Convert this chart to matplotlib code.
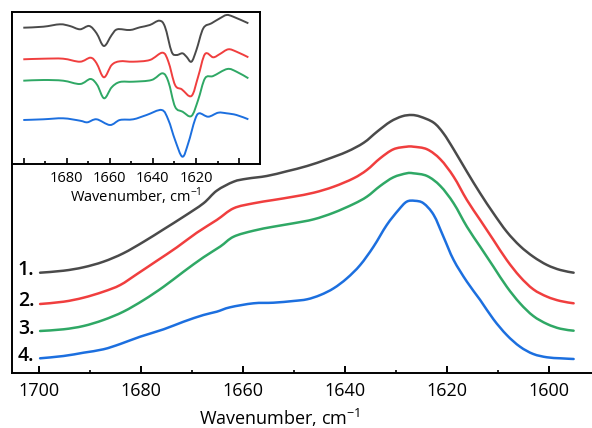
import numpy as np
import matplotlib
matplotlib.use("Agg")
import matplotlib.pyplot as plt
from matplotlib.path import Path
from matplotlib.patches import PathPatch

plt.rcParams["font.family"] = ["Open Sans", "DejaVu Sans"]
plt.rcParams["mathtext.fontset"] = "custom"
plt.rcParams["mathtext.rm"] = "Open Sans"

# ---- absorbance spectra, amide I region ----
wn_1 = [1699.7, 1695.1, 1691.2, 1687.3, 1683.4, 1679.4, 1675.5, 1671.6, 1667.7, 1665.1,
        1661.8, 1659.2, 1655.3, 1651.4, 1647.4, 1643.5, 1639.6, 1636.3, 1633.7, 1631.1,
        1628.8, 1626.9, 1625.2, 1622.6, 1620.7, 1618.7, 1616.1, 1613.5, 1610.9, 1608.3,
        1605.7, 1603.1, 1600.4, 1597.8, 1595.2]
abs_1 = [1.000, 1.020, 1.054, 1.110, 1.194, 1.310, 1.434, 1.560, 1.694, 1.820,
         1.910, 1.940, 1.967, 2.014, 2.067, 2.134, 2.210, 2.300, 2.410, 2.510,
         2.564, 2.577, 2.560, 2.500, 2.394, 2.234, 2.010, 1.794, 1.594, 1.410,
         1.267, 1.160, 1.077, 1.027, 1.000]

wn_2 = [1699.7, 1695.1, 1691.2, 1687.3, 1684.0, 1680.7, 1676.8, 1672.9, 1669.0, 1665.1,
        1661.8, 1657.9, 1654.0, 1650.1, 1646.1, 1642.2, 1638.3, 1635.7, 1633.1, 1630.5,
        1627.9, 1626.6, 1623.9, 1621.3, 1618.7, 1616.1, 1613.5, 1610.9, 1608.3, 1605.7,
        1603.1, 1600.4, 1597.8, 1595.2]
abs_2 = [0.687, 0.710, 0.750, 0.810, 0.877, 0.987, 1.120, 1.254, 1.400, 1.527,
         1.644, 1.694, 1.727, 1.760, 1.800, 1.860, 1.944, 2.027, 2.144, 2.234,
         2.260, 2.260, 2.234, 2.134, 1.960, 1.727, 1.527, 1.327, 1.127, 0.960,
         0.834, 0.760, 0.717, 0.694]

wn_3 = [1699.7, 1695.1, 1691.2, 1687.3, 1683.4, 1679.4, 1675.5, 1671.6, 1667.7, 1664.4,
        1661.8, 1657.9, 1654.0, 1650.1, 1646.1, 1642.2, 1638.3, 1635.7, 1633.1, 1630.5,
        1627.9, 1626.6, 1623.9, 1621.3, 1618.7, 1616.1, 1613.5, 1610.9, 1608.3, 1605.7,
        1603.1, 1600.4, 1597.8, 1595.2]
abs_3 = [0.417, 0.434, 0.467, 0.527, 0.610, 0.727, 0.860, 1.010, 1.154, 1.262,
         1.360, 1.420, 1.460, 1.494, 1.534, 1.600, 1.687, 1.760, 1.867, 1.954,
         1.994, 1.994, 1.967, 1.867, 1.694, 1.460, 1.260, 1.060, 0.860, 0.694,
         0.567, 0.487, 0.440, 0.420]

wn_4 = [1699.7, 1695.1, 1691.2, 1687.3, 1684.0, 1680.1, 1675.5, 1671.6, 1667.7, 1665.1,
        1662.5, 1657.9, 1654.0, 1650.1, 1647.4, 1644.8, 1642.2, 1639.6, 1637.0, 1634.4,
        1631.8, 1629.5, 1627.9, 1626.3, 1624.6, 1622.6, 1620.7, 1618.7, 1616.1, 1613.5,
        1610.9, 1608.3, 1605.7, 1603.1, 1600.4, 1597.8, 1595.2]
abs_4 = [0.144, 0.167, 0.200, 0.234, 0.287, 0.360, 0.434, 0.510, 0.577, 0.610,
         0.654, 0.694, 0.700, 0.717, 0.734, 0.777, 0.844, 0.944, 1.077, 1.260,
         1.477, 1.627, 1.710, 1.719, 1.694, 1.577, 1.360, 1.127, 0.910, 0.727,
         0.534, 0.377, 0.260, 0.187, 0.154, 0.144, 0.137]

# ---- second derivative spectra (offset) ----
d2_wn_1 = [1700.1, 1690.8, 1683.1, 1678.5, 1673.8, 1669.5, 1666.1, 1662.7, 1659.1, 1656.5,
           1650.6, 1646.0, 1641.4, 1637.0, 1634.4, 1631.3, 1629.0, 1626.3, 1624.4, 1622.1,
           1619.8, 1616.6, 1612.8, 1608.9, 1605.8, 1602.7, 1595.7]
d2_1 = [1.363, 1.373, 1.397, 1.380, 1.347, 1.380, 1.307, 1.180, 1.290, 1.347,
        1.340, 1.367, 1.390, 1.433, 1.373, 1.123, 1.090, 1.107, 1.073, 1.023,
        1.140, 1.357, 1.407, 1.457, 1.490, 1.473, 1.407]

d2_wn_2 = [1700.1, 1690.8, 1681.6, 1673.8, 1668.9, 1666.1, 1662.7, 1659.1, 1655.3, 1649.1,
           1641.4, 1635.5, 1632.8, 1629.7, 1626.6, 1622.1, 1619.0, 1615.8, 1612.0, 1608.9,
           1605.0, 1601.2, 1595.7]
d2_2 = [1.047, 1.053, 1.053, 1.023, 1.063, 1.007, 0.867, 0.990, 1.027, 1.023,
        1.040, 1.113, 1.023, 0.790, 0.747, 0.680, 0.873, 1.100, 1.067, 1.100,
        1.147, 1.123, 1.067]

d2_wn_3 = [1700.1, 1690.8, 1681.6, 1673.8, 1668.9, 1665.8, 1662.6, 1659.1, 1655.3, 1649.1,
           1640.6, 1635.5, 1632.8, 1629.7, 1626.2, 1622.1, 1619.0, 1615.8, 1612.0, 1605.5,
           1601.2, 1595.7]
d2_3 = [0.833, 0.840, 0.833, 0.800, 0.850, 0.790, 0.657, 0.767, 0.820, 0.823,
        0.840, 0.907, 0.823, 0.573, 0.523, 0.480, 0.640, 0.857, 0.880, 0.950,
        0.923, 0.857]

d2_wn_4 = [1700.1, 1690.8, 1681.6, 1673.8, 1670.4, 1666.1, 1659.9, 1655.3, 1649.1, 1642.9,
           1635.9, 1632.8, 1629.7, 1626.3, 1623.6, 1620.5, 1618.5, 1614.3, 1609.7, 1605.8,
           1601.2, 1595.7]
d2_4 = [0.440, 0.447, 0.457, 0.433, 0.417, 0.447, 0.390, 0.440, 0.447, 0.490,
        0.540, 0.440, 0.240, 0.073, 0.207, 0.440, 0.507, 0.473, 0.513, 0.507,
        0.490, 0.447]

labels = ["1.", "2.", "3.", "4."]
colors = ["#4a4a4a", "#f03e3e", "#2fa865", "#1c6fdf"]


def smooth_line(ax, x, y, **kw):
    # Catmull-Rom curve through the measured points, drawn as cubic Beziers
    p = np.column_stack([x, y]).astype(float)
    verts = [p[0]]
    codes = [Path.MOVETO]
    n = len(p)
    for i in range(n - 1):
        p0 = p[i - 1] if i > 0 else p[i]
        p1, p2 = p[i], p[i + 1]
        p3 = p[i + 2] if i + 2 < n else p[i + 1]
        verts += [p1 + (p2 - p0) / 6, p2 - (p3 - p1) / 6, p2]
        codes += [Path.CURVE4] * 3
    ax.add_patch(PathPatch(Path(verts, codes), fill=False, **kw))


W, H = 592, 428
fig = plt.figure(figsize=(W / 100, H / 100), dpi=100)

# main plot
ax = fig.add_axes([12 / W, (H - 372.7) / H, 580 / W, 360.7 / H])
spectra = [(wn_1, abs_1), (wn_2, abs_2), (wn_3, abs_3), (wn_4, abs_4)]
for (x, y), c, lab in zip(spectra, colors, labels):
    smooth_line(ax, x, y, edgecolor=c, lw=1.8, capstyle="round", joinstyle="round")
    ax.text(1700.8, y[0] - 0.025, lab, ha="right", va="baseline",
            fontsize=14, fontweight="semibold", color="black")

ax.set_xlim(1705.2, 1591.6)
ax.set_ylim(0, 3.607)
ax.set_xticks(np.arange(1700, 1590, -20))
ax.set_xticks(np.arange(1690, 1590, -20), minor=True)
ax.set_yticks([])
for s in ["top", "right"]:
    ax.spines[s].set_visible(False)
for s in ["left", "bottom"]:
    ax.spines[s].set_linewidth(1.4)
ax.tick_params(axis="x", which="major", direction="in", length=5, width=1.4,
               labelsize=13, pad=7)
ax.tick_params(axis="x", which="minor", direction="in", length=2, width=1.2)
ax.set_xlabel("Wavenumber, cm$^{-1}$", fontsize=13)
ax.xaxis.set_label_coords((280 - 12) / 580, -(418 - 372.7) / 360.7)
ax.xaxis.label.set_va("center")

# inset: second derivative
ins = fig.add_axes([12.3 / W, (H - 164) / H, 247.7 / W, 151.7 / H])
ins.set_zorder(3)
second = [(d2_wn_1, d2_1), (d2_wn_2, d2_2), (d2_wn_3, d2_3), (d2_wn_4, d2_4)]
for (x, y), c in zip(second, colors):
    smooth_line(ins, x, y, edgecolor=c, lw=1.4, joinstyle="round")
ins.set_xlim(1705.2, 1590.3)
ins.set_ylim(0, 1.517)
ins.set_xticks(np.arange(1700, 1590, -20))
ins.set_xticklabels(["", "1680", "1660", "1640", "1620", ""])
ins.set_xticks(np.arange(1690, 1590, -20), minor=True)
ins.set_yticks([])
for s in ins.spines.values():
    s.set_linewidth(1.4)
ins.tick_params(axis="x", which="major", direction="in", length=4, width=1.2,
                labelsize=10.5, pad=5)
ins.tick_params(axis="x", which="minor", direction="in", length=2.5, width=1.2)
ins.set_xlabel("Wavenumber, cm$^{-1}$", fontsize=10.5, labelpad=0)

fig.savefig("out.png", dpi=100)
